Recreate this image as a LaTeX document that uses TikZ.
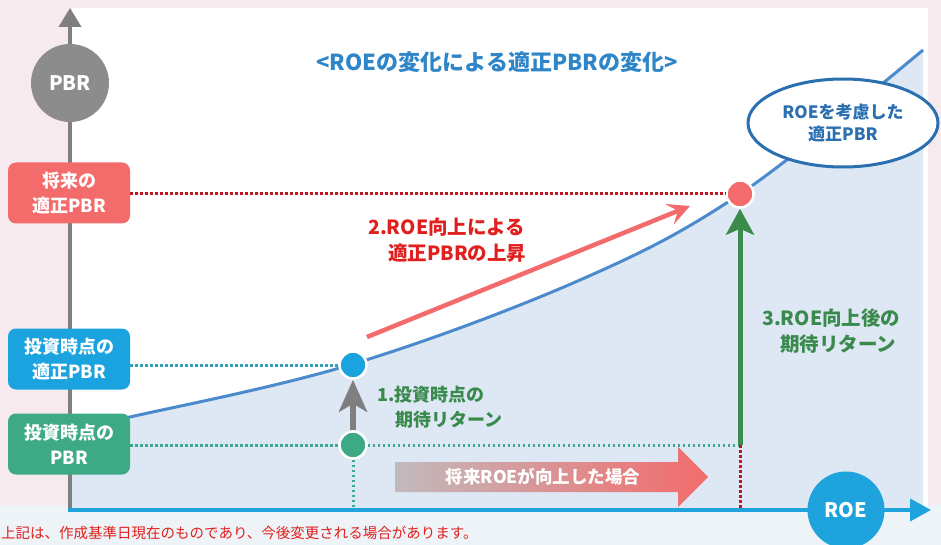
\documentclass[tikz,border=0pt]{standalone}
\usepackage{fontspec}
\setmainfont{Noto Sans CJK JP}
\usetikzlibrary{arrows.meta,shapes.geometric}
\definecolor{bgpink}{HTML}{F7EAEF}
\definecolor{bottombg}{HTML}{EEF3F7}
\definecolor{areablue}{HTML}{DDE8F4}
\definecolor{curveblue}{HTML}{4B8ACD}
\definecolor{axisgray}{HTML}{7F7F7F}
\definecolor{circgray}{HTML}{8C8C8C}
\definecolor{axisblue}{HTML}{1FA3DC}
\definecolor{salmon}{HTML}{F36B6B}
\definecolor{darkred}{HTML}{C0141E}
\definecolor{boxblue}{HTML}{1BA3E0}
\definecolor{boxgreen}{HTML}{3DAA85}
\definecolor{dotblue}{HTML}{2EA2B8}
\definecolor{dotgreen}{HTML}{3AAA8C}
\definecolor{titleblue}{HTML}{2E86C8}
\definecolor{textred}{HTML}{E0201E}
\definecolor{textgreen}{HTML}{3A8A4E}
\definecolor{ellblue}{HTML}{2A6FB0}
\definecolor{arrowgreen}{HTML}{3B8B4D}
\begin{document}
\begin{tikzpicture}[x=1pt,y=-1pt,
  lbox/.style={rounded corners=8pt,minimum width=122pt,minimum height=61pt,text=white,font=\fontsize{18}{25}\selectfont\bfseries,align=center,inner sep=0pt},
  dotline/.style={line width=3pt,dash pattern=on 2.6pt off 2.4pt},
  dotc/.style={circle,minimum size=27pt,inner sep=0pt,draw=white,line width=2.5pt},
  lab/.style={font=\fontsize{19.5}{26}\selectfont\bfseries,align=left,anchor=west,inner sep=0pt}
]
\useasboundingbox (0,0) rectangle (941,545);
% backgrounds
\fill[bgpink] (0,0) rectangle (941,545);
\fill[bottombg] (0,505) rectangle (941,545);
\fill[white] (72,8) rectangle (928,508);
% area under curve
\fill[areablue] (72,508) -- (72,428) -- plot[smooth,tension=0.6] coordinates {(72,428) (130,417) (353,364) (580,280) (740,194) (923,50)} -- (923,508) -- cycle;
% curve
\draw[curveblue,line width=3pt] plot[smooth,tension=0.6] coordinates {(72,428) (130,417) (353,364) (580,280) (740,194) (923,50)};
% axes
\coordinate (ytop) at (70,8);
\coordinate (ybot) at (70,510);
\coordinate (xl) at (68,510);
\coordinate (xr) at (931,510);
\draw[axisgray,line width=4pt,-{Triangle[width=22pt,length=19pt]}] (ybot) -- (ytop);
\draw[axisblue,line width=4pt,-{Triangle[width=22pt,length=21pt]}] (xl) -- (xr);
\node[circle,fill=circgray,minimum size=78pt,inner sep=0pt,text=white,font=\fontsize{20}{24}\selectfont\bfseries] (pbr) at (70,83) {PBR};
\node[circle,fill=axisblue,minimum size=77pt,inner sep=0pt,text=white,font=\fontsize{20}{24}\selectfont\bfseries] (roe) at (846,510) {ROE};
% gradient arrow
\shade[left color=gray!45!bgpink,right color=salmon] (395,462) -- (678,462) -- (678,447) -- (708,477) -- (678,507) -- (678,492) -- (395,492) -- cycle;
\node[text=white,font=\fontsize{17.5}{20}\selectfont\bfseries] (futroe) at (543,477) {将来ROEが向上した場合};
% dots
\node[dotc,fill=salmon] (rdot) at (740,194) {};
\node[dotc,fill=boxblue] (bdot) at (353,365) {};
\node[dotc,fill=boxgreen] (gdot) at (353,445) {};
\coordinate (gend) at (740,445);
\coordinate (gax) at (353,508);
\coordinate (rax) at (740,508);
% boxes
\node[lbox,fill=salmon] (fut) at (69,193) {将来の\\適正PBR};
\node[lbox,fill=boxblue] (invp) at (69,359) {投資時点の\\適正PBR};
\node[lbox,fill=boxgreen] (invb) at (69,444) {投資時点の\\PBR};
% dotted lines
\draw[dotline,darkred] (fut.east |- rdot) -- (rdot.west);
\draw[dotline,dotblue] (invp.east |- bdot) -- (bdot.west);
\draw[dotline,dotgreen] (invb.east |- gdot) -- (gdot.west);
\draw[dotline,dotgreen] (gdot.east) -- (gend);
\draw[dotline,dotgreen] (gdot.south) -- (gax);
\draw[dotline,darkred] (gend) -- (rax);
% arrows
\draw[axisgray,line width=6pt,-{Stealth[length=32pt,width=28pt,inset=8pt]}] (gdot.north) -- (bdot.south);
\draw[arrowgreen,line width=5pt,-{Stealth[length=26pt,width=28pt,inset=6pt]}] (gend) -- (rdot.south);
\coordinate (ra1) at (367,337);
\coordinate (ra2) at (690,206);
\draw[salmon,line width=4.5pt,-{Stealth[length=22pt,width=22pt,inset=9pt]}] (ra1) -- (ra2);
% ellipse
\node[ellipse,draw=ellblue,line width=3pt,fill=white,minimum width=190pt,minimum height=88pt,text=ellblue,align=center,font=\fontsize{17}{22}\selectfont\bfseries,inner sep=0pt] (ell) at (843,123) {ROEを考慮した\\適正PBR};
% labels
\node[text=titleblue,font=\fontsize{22}{26}\selectfont\bfseries,inner sep=0pt] (title) at (497,62) {<ROEの変化による適正PBRの変化>};
\node[lab,text=textred] (lab2) at (368,240) {2.ROE向上による\\\hspace*{20pt}適正PBRの上昇};
\node[lab,text=textgreen,font=\fontsize{18}{25}\selectfont\bfseries] (lab1) at (377,407) {1.投資時点の\\\hspace*{18pt}期待リターン};
\node[lab,text=textgreen] (lab3) at (762,331) {3.ROE向上後の\\\hspace*{18pt}期待リターン};
\node[text=textred,font=\fontsize{14.5}{17}\selectfont,anchor=west,inner sep=0pt] (note) at (1,533) {上記は、作成基準日現在のものであり、今後変更される場合があります。};
\end{tikzpicture}
\end{document}
